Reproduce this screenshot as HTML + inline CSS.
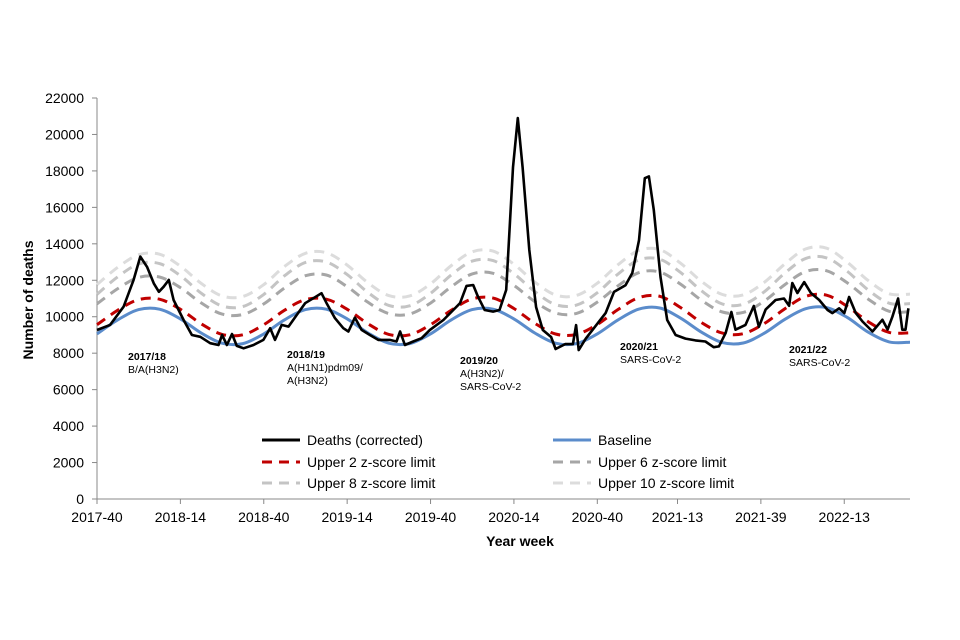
<!DOCTYPE html>
<html><head><meta charset="utf-8"><style>
html,body{margin:0;padding:0;background:#fff;}
svg{display:block;font-family:"Liberation Sans",Arial,sans-serif;}
</style></head><body>
<svg id="chart" width="960" height="640">
<g id="axes"></g>
<g id="series"></g>
<g id="annot" font-size="10.5" fill="#000">
<text x="128" y="360" font-weight="bold">2017/18</text>
<text x="128" y="373">B/A(H3N2)</text>
<text x="287" y="358" font-weight="bold">2018/19</text>
<text x="287" y="371">A(H1N1)pdm09/</text>
<text x="287" y="384">A(H3N2)</text>
<text x="460" y="364" font-weight="bold">2019/20</text>
<text x="460" y="377">A(H3N2)/</text>
<text x="460" y="390">SARS-CoV-2</text>
<text x="620" y="350" font-weight="bold">2020/21</text>
<text x="620" y="363">SARS-CoV-2</text>
<text x="789" y="353" font-weight="bold">2021/22</text>
<text x="789" y="366">SARS-CoV-2</text>
</g>
<g id="legend"></g>
<text x="520" y="546" text-anchor="middle" font-size="14" font-weight="bold">Year week</text>
<text transform="translate(33,300) rotate(-90)" text-anchor="middle" font-size="14" font-weight="bold">Number of deaths</text>
</svg>
<script>
const xTickLabels=["2017-40","2018-14","2018-40","2019-14","2019-40","2020-14","2020-40","2021-13","2021-39","2022-13"];
const xTickWeeks=[0,26,52,78,104,130,156,181,207,233];
const yTicks=[0,2000,4000,6000,8000,10000,12000,14000,16000,18000,20000,22000];
const deathWeeks=[0,4.1,8.3,11.4,13.5,15.6,17.7,19.3,20.8,22.4,23.9,27,29.6,32.2,35.3,37.9,39,40.5,42.1,43.6,45.7,48.8,51.9,54,55.5,57.6,59.7,62.3,64.9,67.4,70,71.6,74.2,76.8,78.4,80.4,82.5,85.1,87.7,91.3,93.4,94.5,96,98.6,101.2,103.8,108,111.1,113.2,115.2,117.3,118.8,120.9,123.5,125.5,127.6,129.7,131.2,132.7,134.8,136.9,139,141.6,143,146,148.4,149.4,150.2,152.4,155.5,158.6,161.2,164.8,166.9,169,170.8,172.1,173.6,175.7,177.8,180.4,183.5,186.6,189.7,192.3,193.9,196,197.8,199.1,202.2,204.8,206.4,208.5,211.6,214.2,215.8,216.8,218.4,220.5,222.6,225.2,227.8,229.3,231.4,233,234.5,236.6,238.7,241.8,244.9,246.5,248,249.8,251.1,252.1,253];
const deaths=[9270,9550,10550,12020,13300,12740,11830,11370,11650,12020,10920,9820,9000,8900,8550,8450,9000,8450,9050,8400,8270,8450,8730,9370,8730,9550,9460,10100,10740,11010,11290,10740,9920,9370,9190,9950,9280,9000,8730,8730,8640,9190,8450,8640,8820,9280,9820,10370,10740,11690,11740,11100,10370,10280,10370,11470,18200,20900,18200,13660,10530,9270,8890,8230,8500,8500,9540,8170,8800,9500,10200,11360,11730,12400,14200,17600,17700,15850,12180,9820,9000,8800,8700,8640,8330,8370,9100,10260,9290,9550,10590,9450,10400,10920,11000,10600,11850,11300,11900,11300,10920,10370,10200,10460,10200,11080,10200,9740,9190,9830,9300,10000,11000,9290,9290,10460];
const limWeeks=[0,6.5,13,19.5,26,32.5,39,45.5,52,58.5,65,71.5,78,84.5,91,97.5,104,110.5,117,123.5,130,136.5,143,149.5,156,162.5,169,175.5,182,188.5,195,201.5,208,214.5,221,227.5,234,240.5,247,253.5];
const baseline=[9059,9832,10393,10413,9881,9108,8547,8527,9059,9832,10393,10413,9881,9108,8547,8527,9059,9832,10393,10413,9881,9108,8547,8527,9059,9832,10420,10480,9920,9150,8580,8560,9090,9860,10440,10500,9950,9150,8620,8600];
const upper2=[9560,10359,10940,10961,10410,9611,9030,9009,9560,10359,10940,10961,10410,9611,9030,9009,9560,10359,10980,11020,10450,9640,9050,9030,9580,10400,11050,11120,10500,9680,9100,9070,9620,10440,11120,11180,10560,9720,9140,9120];
const upper6=[10702,11544,12155,12177,11598,10756,10145,10123,10702,11580,12250,12290,11650,10790,10170,10150,10750,11650,12350,12380,11720,10830,10200,10180,10800,11700,12420,12450,11780,10900,10260,10240,10850,11760,12480,12520,11850,10960,10300,10280];
const upper8=[11227,12191,12892,12917,12253,11289,10588,10563,11227,12250,12980,13000,12310,11330,10620,10600,11280,12300,13050,13080,12360,11380,10660,10640,11320,12350,13120,13150,12420,11420,10700,10680,11360,12400,13200,13230,12480,11460,10740,10720];
const upper10=[11765,12714,13403,13428,12775,11826,11137,11112,11765,12760,13480,13510,12830,11860,11160,11140,11800,12810,13560,13600,12880,11900,11190,11170,11840,12860,13640,13680,12930,11940,11220,11200,11880,12900,13720,13760,12980,11980,11260,11240];

const NS="http://www.w3.org/2000/svg";
const X0=97,X1=910,Y0=499,Y1=98,WMAX=253.5;
const xs=w=>X0+w/WMAX*(X1-X0);
const ys=v=>Y0-v/22000*(Y0-Y1);
function mk(tag,attrs,parent){const e=document.createElementNS(NS,tag);for(const k in attrs)e.setAttribute(k,attrs[k]);parent.appendChild(e);return e;}
const axes=document.getElementById('axes');
const ya=mk('line',{x1:X0,y1:Y1,x2:X0,y2:Y0,stroke:'#888','stroke-width':1},axes);


const xa=mk('line',{x1:X0,y1:Y0,x2:X1,y2:Y0,stroke:'#888','stroke-width':1},axes);


yTicks.forEach(v=>{
  const t=mk('line',{x1:X0-5,x2:X0,y1:ys(v),y2:ys(v),stroke:'#888'},axes);
  
  
  const l=mk('text',{x:X0-13,y:ys(v)+5,'text-anchor':'end','font-size':14},axes);
  l.textContent=v;
  
  
});
xTickWeeks.forEach((w,i)=>{
  const t=mk('line',{x1:xs(w),x2:xs(w),y1:Y0,y2:Y0+5,stroke:'#888'},axes);
  
  
  const l=mk('text',{x:xs(w),y:Y0+23,'text-anchor':'middle','font-size':14},axes);
  l.textContent=xTickLabels[i];
  
  
});
function smooth(ws,vs){
  const p=ws.map((w,i)=>[xs(w),ys(vs[i])]);
  let d='M'+p[0][0].toFixed(1)+','+p[0][1].toFixed(1);
  for(let i=0;i<p.length-1;i++){
    const a=p[Math.max(0,i-1)],b=p[i],c=p[i+1],e=p[Math.min(p.length-1,i+2)];
    const c1=[b[0]+(c[0]-a[0])/6,b[1]+(c[1]-a[1])/6],c2=[c[0]-(e[0]-b[0])/6,c[1]-(e[1]-b[1])/6];
    d+='C'+c1.map(n=>n.toFixed(1))+' '+c2.map(n=>n.toFixed(1))+' '+c[0].toFixed(1)+','+c[1].toFixed(1);
  }
  return d;
}
const ser=document.getElementById('series');
const specs=[
 [upper10,'#dcdcdc','10,7','upper-10-zscore-line'],
 [upper8,'#c4c4c4','10,7','upper-8-zscore-line'],
 [upper6,'#a6a6a6','10,7','upper-6-zscore-line'],
 [baseline,'#5b8ccb',null,'baseline-line'],
 [upper2,'#c00000','10,7','upper-2-zscore-line']];
specs.forEach(s=>{
  const a={d:smooth(limWeeks,s[0]),fill:'none',stroke:s[1],'stroke-width':3};
  if(s[2])a['stroke-dasharray']=s[2];
  const p=mk('path',a,ser);
  
  
});
const dp=mk('path',{d:'M'+deathWeeks.map((w,i)=>xs(w).toFixed(1)+','+ys(deaths[i]).toFixed(1)).join('L'),fill:'none',stroke:'#000','stroke-width':2.6,'stroke-linejoin':'round'},ser);


const leg=document.getElementById('legend');
const items=[[262,440,'#000',null,'Deaths (corrected)'],[553,440,'#5b8ccb',null,'Baseline'],[262,462,'#c00000','10,7','Upper 2 z-score limit'],[553,462,'#a6a6a6','10,7','Upper 6 z-score limit'],[262,483,'#c4c4c4','10,7','Upper 8 z-score limit'],[553,483,'#dcdcdc','10,7','Upper 10 z-score limit']];
items.forEach(it=>{
  const g=mk('g',{},leg);
  
  
  const a={x1:it[0],x2:it[0]+38,y1:it[1],y2:it[1],stroke:it[2],'stroke-width':3};
  if(it[3])a['stroke-dasharray']=it[3];
  mk('line',a,g);
  const t=mk('text',{x:it[0]+45,y:it[1]+5,'font-size':14},g);
  t.textContent=it[4];
});
</script>
</body></html>
